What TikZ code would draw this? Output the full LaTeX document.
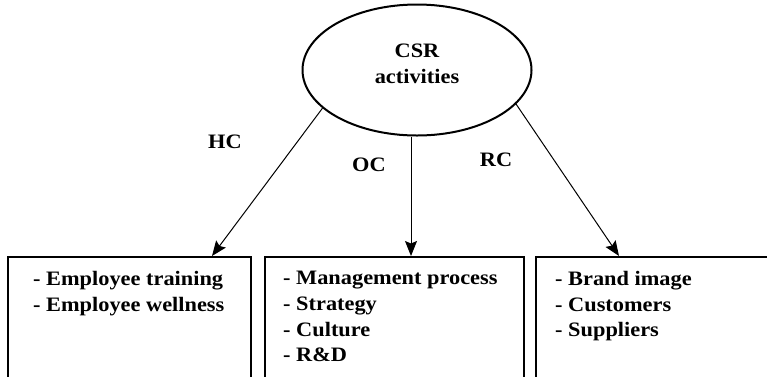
\documentclass[tikz,border=0pt]{standalone}
\usepackage{fontspec}
\setmainfont{Liberation Serif}[FakeStretch=1.09]
\usetikzlibrary{arrows.meta,shapes.geometric}
\begin{document}
\begin{tikzpicture}[x=1pt,y=-1pt,
  txt/.style={font=\fontsize{20.5}{25.7}\selectfont\bfseries, inner sep=0pt, align=left},
  box/.style={draw, line width=2.2pt, anchor=north west, inner sep=0pt},
  arr/.style={-{Stealth[length=15pt,width=12pt,inset=2.5pt]}, line width=1pt},
  lab/.style={font=\fontsize{20.5}{24}\selectfont\bfseries, inner sep=0pt}]
\useasboundingbox (0,0) rectangle (767,376);
\clip (0,0) rectangle (767,376);
\node[draw, ellipse, line width=2pt, minimum width=229pt, minimum height=131pt, inner sep=0pt] (E) at (417,70) {};
\node[txt, align=center] (Et) at (417,63.5) {CSR\\activities};
\node[box, minimum width=243pt, minimum height=150pt] (L) at (7,256) {};
\node[box, minimum width=259pt, minimum height=150pt] (M) at (264,256) {};
\node[box, minimum width=250pt, minimum height=150pt] (R) at (535,256) {};
\coordinate (Lt) at (212,256);
\coordinate (Mt) at (411,256);
\coordinate (Rt) at (619,256);
\draw[arr] (E.202) -- (Lt);
\draw[arr] (E.south -| Mt) -- (Mt);
\draw[arr] (E.-19) -- (Rt);
\node[lab] (HC) at (225,141.5) {HC};
\node[lab] (OC) at (369,165) {OC};
\node[lab] (RC) at (496,160) {RC};
\node[txt, anchor=north west] (Lx) at (33,271) {- Employee training\\- Employee wellness};
\node[txt, anchor=north west] (Mx) at (283,271) {- Management process\\- Strategy\\- Culture\\- R\&D};
\node[txt, anchor=north west] (Rx) at (555,271) {- Brand image\\- Customers\\- Suppliers};
\end{tikzpicture}
\end{document}
